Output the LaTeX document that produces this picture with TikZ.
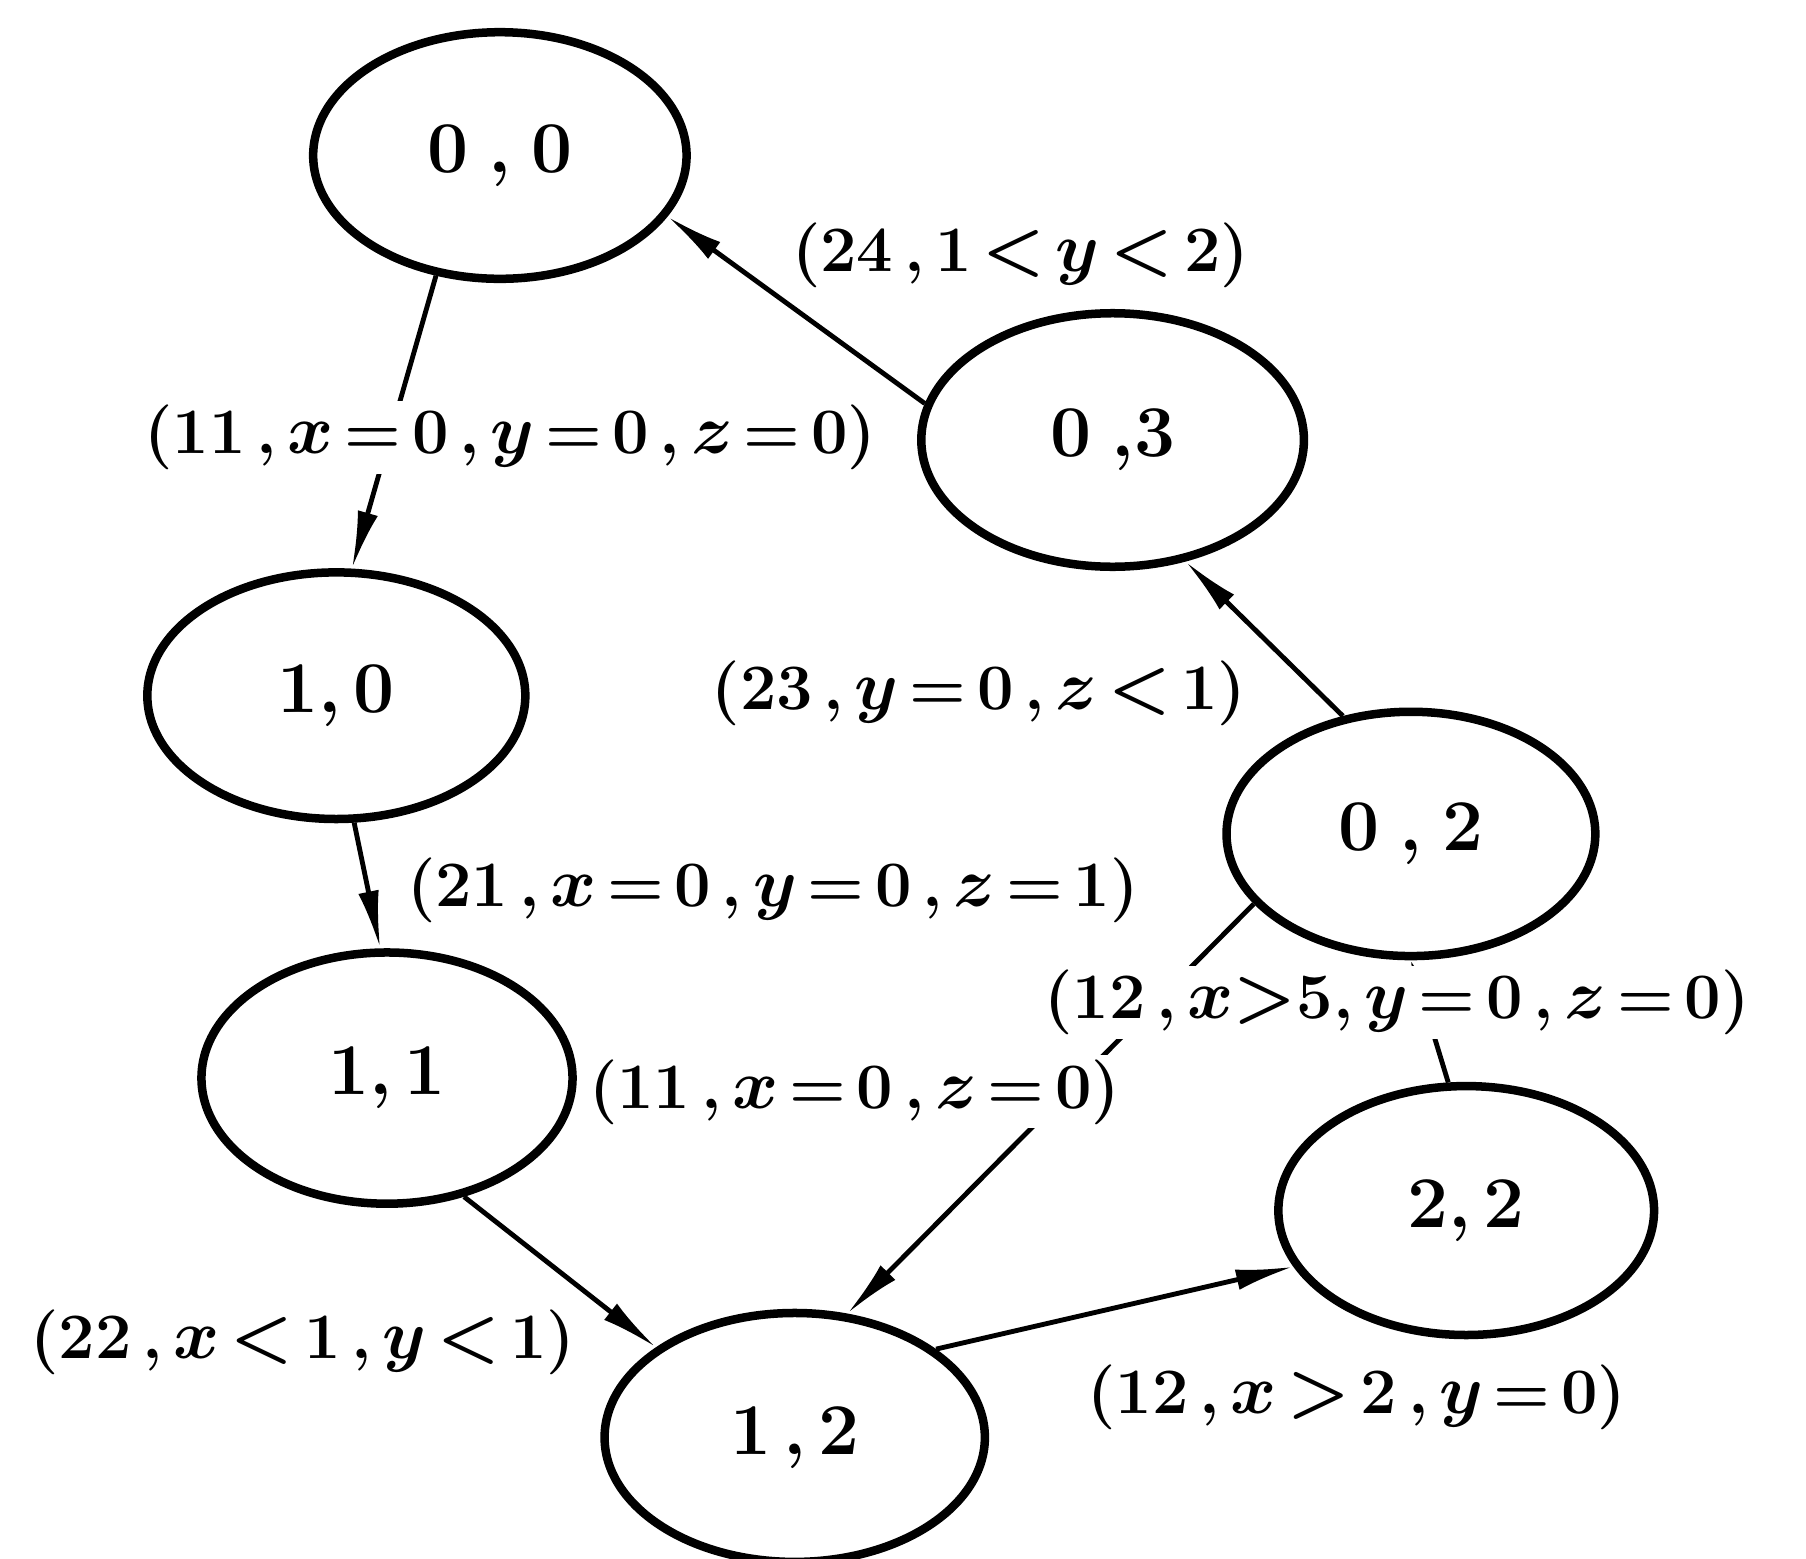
\documentclass[tikz,border=0pt]{standalone}
\usepackage{tikz}
\usetikzlibrary{shapes.geometric,arrows.meta}
\pgfdeclarelayer{edgelayer}
\pgfdeclarelayer{labellayer}
\pgfsetlayers{edgelayer,labellayer,main}
\begin{document}
\begin{tikzpicture}[x=0.01cm,y=-0.01cm,
  st/.style={draw, ellipse, line width=2.1pt, inner sep=0pt,
    font=\fontsize{18}{20}\selectfont\bfseries},
  lbl/.style={fill=white, inner sep=1pt,
    font=\fontsize{16}{18}\selectfont\bfseries\boldmath},
  conn/.style={line width=1.2pt, -{Latex[length=5mm,width=1.8mm]}}]
\useasboundingbox (0,0) rectangle (1568,1353);
% states
\node[st, minimum width=3.24cm, minimum height=2.14cm] (n00) at (434,135) {0\;,\;0};
\node[st, minimum width=3.32cm, minimum height=2.20cm] (n03) at (966,382) {0\;,3};
\node[st, minimum width=3.28cm, minimum height=2.14cm] (n10) at (292,604) {1,\,0};
\node[st, minimum width=3.20cm, minimum height=2.12cm] (n02) at (1225,724) {0\;,\;2};
\node[st, minimum width=3.22cm, minimum height=2.18cm] (n11) at (336,936) {1,\,1};
\node[st, minimum width=3.26cm, minimum height=2.16cm] (n22) at (1273,1051) {2,\,2};
\node[st, minimum width=3.30cm, minimum height=2.16cm] (n12) at (690,1248) {1\,,\,2};
% transitions
\begin{pgfonlayer}{edgelayer}
\draw[conn] (n00.242.8) -- (n10.83.5);
\draw[conn] (n10.278.4) -- (n11.93.2);
\draw[conn] (n11.303.6) -- (n12.147);
\draw[conn] (n12.32) -- (n22.198);
\draw[conn] (n02.204.5) -- (n12.67);
\draw[line width=1.2pt, -{Latex[length=2.5mm,width=1.8mm]}] (n22.98) -- (n02.270);
\draw[conn] (n02.120.5) -- (n03.301);
\draw[conn] (n03.169.5) -- (n00.340);
\end{pgfonlayer}
% labels
\begin{pgfonlayer}{labellayer}
\node[lbl] (l24) at (886,222) {(24\,,\,1\,$<$\,$y$\,$<$\,2)};
\node[lbl] (l11a) at (443,380) {(11\,,\,$x$\,=\,0\,,\,$y$\,=\,0\,,\,$z$\,=\,0)};
\node[lbl] (l23) at (850,602) {(23\,,\,$y$\,=\,0\,,\,$z$\,$<$\,1)};
\node[lbl] (l21) at (671,773) {(21\,,\,$x$\,=\,0\,,\,$y$\,=\,0\,,\,$z$\,=\,1)};
\node[lbl] (l12a) at (1213,870) {(12\,,\,$x$$>$5,\,$y$\,=\,0\,,\,$z$\,=\,0)};
\node[lbl] (l11b) at (742,948) {(11\,,\,$x$\,=\,0\,,\,$z$\,=\,0)};
\node[lbl] (l22) at (263,1165) {(22\,,\,$x$\,$<$\,1\,,\,$y$\,$<$\,1)};
\node[lbl] (l12b) at (1178,1213) {(12\,,\,$x$\,$>$\,2\,,\,$y$\,=\,0)};
\end{pgfonlayer}
\end{tikzpicture}
\end{document}
